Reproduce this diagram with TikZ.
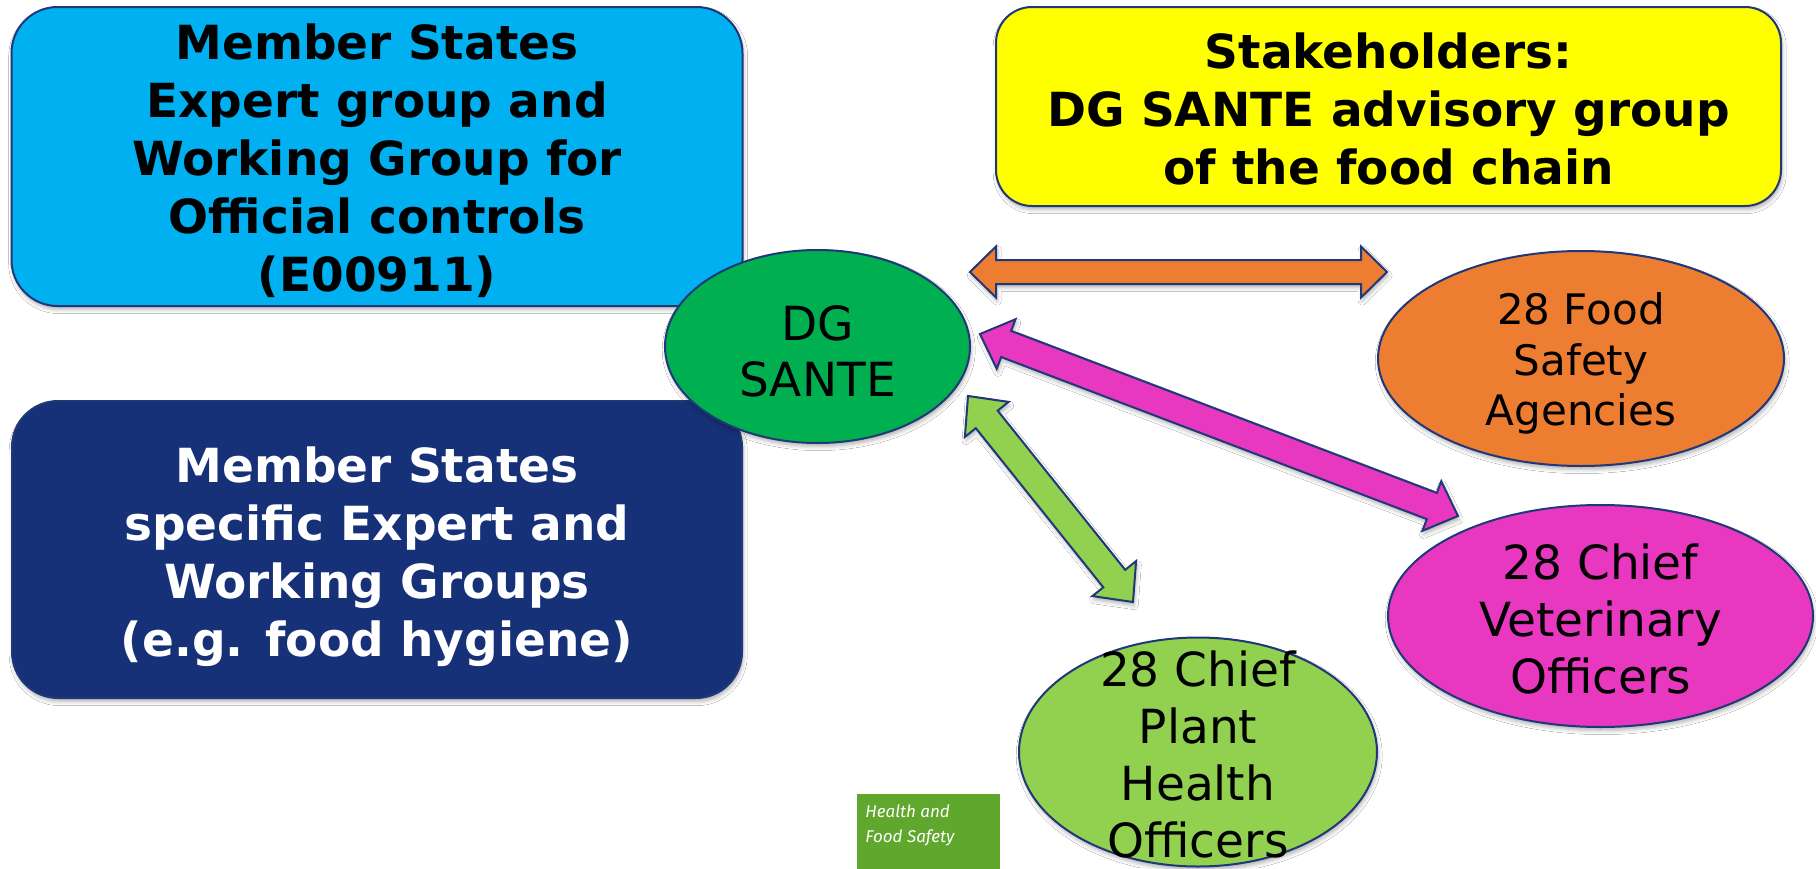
\documentclass[tikz,border=0pt]{standalone}
\usepackage{fontspec}
\setmainfont{DejaVu Sans}
\newfontfamily\logofont{Fira Sans}
\usetikzlibrary{calc,shapes.geometric,shadows.blur}
\definecolor{edgeblue}{HTML}{1F3877}
\definecolor{skyA}{HTML}{00B0F0}
\definecolor{navyA}{HTML}{163177}
\definecolor{yellowA}{HTML}{FFFF00}
\definecolor{santeA}{HTML}{00B050}
\definecolor{orangeA}{HTML}{ED7D31}
\definecolor{magentaA}{HTML}{E838C0}
\definecolor{limeA}{HTML}{92D050}
\definecolor{logoA}{HTML}{5FA72D}
\newcommand{\dblarrow}[6]{%
  \coordinate (h1) at ($(#1)!#5!(#2)$);
  \coordinate (h2) at ($(#2)!#5!(#1)$);
  \path[#6] (#1) -- ($(h1)!#4!90:(#2)$) -- ($(h1)!#3!90:(#2)$)
    -- ($(h2)!#3!-90:(#1)$) -- ($(h2)!#4!-90:(#1)$) -- (#2)
    -- ($(h2)!#4!90:(#1)$) -- ($(h2)!#3!90:(#1)$)
    -- ($(h1)!#3!-90:(#2)$) -- ($(h1)!#4!-90:(#2)$) -- cycle;
}
\tikzset{
  outl/.style={draw=edgeblue, line width=1pt, line join=miter},
  shad/.style={blur shadow={shadow xshift=0.6pt, shadow yshift=-1.8pt, shadow blur radius=2pt, shadow opacity=30}},
  groupbox/.style={rectangle, rounded corners=23pt, outl, shad, inner sep=0pt},
  boxtext/.style={align=center, inner sep=0pt, font=\fontsize{23.5}{29}\selectfont\bfseries},
  ellbase/.style={ellipse, outl, shad, inner sep=0pt},
  elltext/.style={align=center, inner sep=0pt, font=\fontsize{23.5}{28.5}\selectfont},
  logotext/.style={anchor=base west, inner sep=0pt, text=white, font=\logofont\itshape\fontsize{8.5}{12.5}\selectfont},
}
\begin{document}
\begin{tikzpicture}[x=0.5pt,y=-0.5pt]
\useasboundingbox (0,0) rectangle (1816,868);
\fill[white] (0,0) rectangle (1816,868);

% group boxes
\node[groupbox, fill=skyA, minimum width=365.5pt, minimum height=149.5pt] (msexp) at (377,156.5) {};
\node[boxtext] (msexpt) at ($(msexp)+(0,4)$)
  {Member States\\ Expert group and\\Working Group for\\Official controls\\(E00911)};
\node[groupbox, fill=navyA, minimum width=365pt, minimum height=148.5pt] (msspec) at (377,549.5) {};
\node[boxtext, text=white] (msspect) at ($(msspec)+(0,7)$)
  {Member States\\specific Expert and\\Working Groups\\(e.g. food hygiene)};
\node[groupbox, rounded corners=18pt, fill=yellowA, minimum width=392.5pt, minimum height=99.5pt] (stake) at (1388.5,106.5) {};
\node[boxtext] (staket) at ($(stake)+(0,2)$)
  {Stakeholders:\\DG SANTE advisory group\\of the food chain};

% ellipses
\node[ellbase, fill=santeA, minimum width=152.5pt, minimum height=96.5pt] (sante) at (817.5,346.5) {};
\node[elltext, font=\fontsize{23.5}{28}\selectfont] (santet) at ($(sante)+(0,5)$) {DG\\SANTE};

\node[ellbase, fill=orangeA, minimum width=203pt, minimum height=107.5pt] (fsa) at (1581,358.5) {};
\node[elltext, font=\fontsize{21}{25.2}\selectfont] (fsat) at ($(fsa)+(0,5)$) {28 Food\\Safety\\Agencies};

\node[ellbase, fill=magentaA, minimum width=212.5pt, minimum height=111pt] (cvo) at (1600.5,616) {};
\node[elltext] (cvot) at ($(cvo)+(0,3)$) {28 Chief\\Veterinary\\Officers};

\node[ellbase, fill=limeA, minimum width=179pt, minimum height=114.5pt] (cpho) at (1198,752) {};
\node[elltext] (cphot) at ($(cpho)+(0,2)$) {28 Chief\\Plant\\Health\\Officers};

% block arrows
\coordinate (oa) at (970,272);
\coordinate (ob) at (1387,272);
\coordinate (ma) at (980,334);
\coordinate (mb) at (1458,516);
\coordinate (ga) at (968,396);
\coordinate (gb) at (1133,602);
\dblarrow{oa}{ob}{6pt}{12.75pt}{13pt}{fill=orangeA, outl, shad}
\dblarrow{ma}{mb}{7pt}{13.25pt}{14pt}{fill=magentaA, outl, shad}
\dblarrow{ga}{gb}{7pt}{14pt}{15pt}{fill=limeA, outl, shad}

% logo
\node[fill=logoA, minimum width=71.5pt, minimum height=43pt, anchor=north west, inner sep=0pt] (logo) at (857,794) {};
\node[logotext] (logo1) at (865,817) {Health and};
\node[logotext] (logo2) at (865,842) {Food Safety};
\end{tikzpicture}
\end{document}
